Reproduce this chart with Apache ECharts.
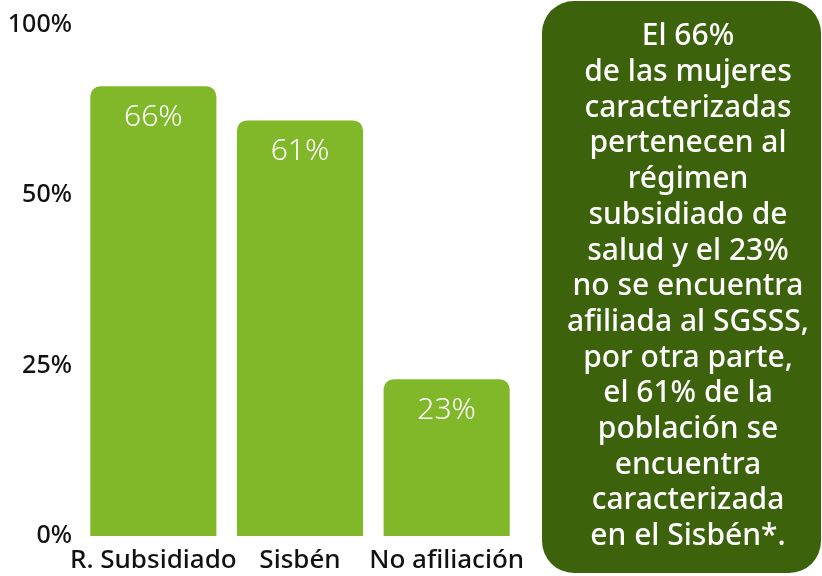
<!DOCTYPE html>
<html>
<head>
<meta charset="utf-8">
<script src="https://cdn.jsdelivr.net/npm/echarts@6/dist/echarts.min.js"></script>
<style>
  html, body { margin: 0; padding: 0; background: #ffffff; }
  #chart { width: 822px; height: 576px; }
</style>
</head>
<body>
<div id="chart"></div>
<script>
"use strict";

var categories = ['R. Subsidiado', 'Sisbén', 'No afiliación'];
var values = [66, 61, 23];
// axis runs 0..75, the top tick is labelled 100% in the original
var yTickValues = [0, 25, 50, 75];
var yTickLabels = ['0%', '25%', '50%', '100%'];
var noteLines = [
  'El 66%',
  'de las mujeres',
  'caracterizadas',
  'pertenecen al',
  'régimen',
  'subsidiado de',
  'salud y el 23%',
  'no se encuentra',
  'afiliada al SGSSS,',
  'por otra parte,',
  'el 61% de la',
  'población se',
  'encuentra',
  'caracterizada',
  'en el Sisbén*.'
];

var chart = echarts.init(document.getElementById('chart'));

var option = {
  backgroundColor: '#ffffff',
  textStyle: { fontFamily: 'Noto Sans' },
  grid: {
    left: 80,
    right: 302,
    top: 25,
    bottom: 40
  },
  xAxis: {
    type: 'category',
    data: categories,
    axisLine: { show: false },
    axisTick: { show: false },
    axisLabel: {
      interval: 0,
      hideOverlap: false,
      color: '#111111',
      fontSize: 26,
      fontWeight: 500,
      margin: 12
    }
  },
  yAxis: {
    type: 'value',
    min: 0,
    max: 75,
    interval: 25,
    splitLine: { show: false },
    axisLine: { show: false },
    axisTick: { show: false },
    axisLabel: {
      color: '#111111',
      fontSize: 25,
      fontWeight: 500,
      margin: 8,
      formatter: function (v) {
        var i = yTickValues.indexOf(v);
        return i >= 0 ? yTickLabels[i] : '';
      }
    }
  },
  series: [{
    type: 'bar',
    data: values,
    barCategoryGap: '14%',
    itemStyle: {
      color: '#80b82a',
      borderRadius: [10, 10, 0, 0]
    },
    label: {
      show: true,
      position: 'insideTop',
      distance: 16,
      color: '#ffffff',
      fontSize: 30,
      fontWeight: 300,
      formatter: '{c}%'
    }
  }],
  graphic: [
    {
      type: 'rect',
      shape: { x: 542, y: 1, width: 279, height: 572, r: 32 },
      style: { fill: '#3c620b' }
    },
    {
      type: 'text',
      x: 688,
      y: 19,
      style: {
        text: noteLines.join('\n'),
        fill: '#ffffff',
        font: '500 30px "Noto Sans"',
        lineHeight: 35.7,
        align: 'center',
        verticalAlign: 'top'
      }
    }
  ]
};

chart.setOption(option);
</script>
</body>
</html>
